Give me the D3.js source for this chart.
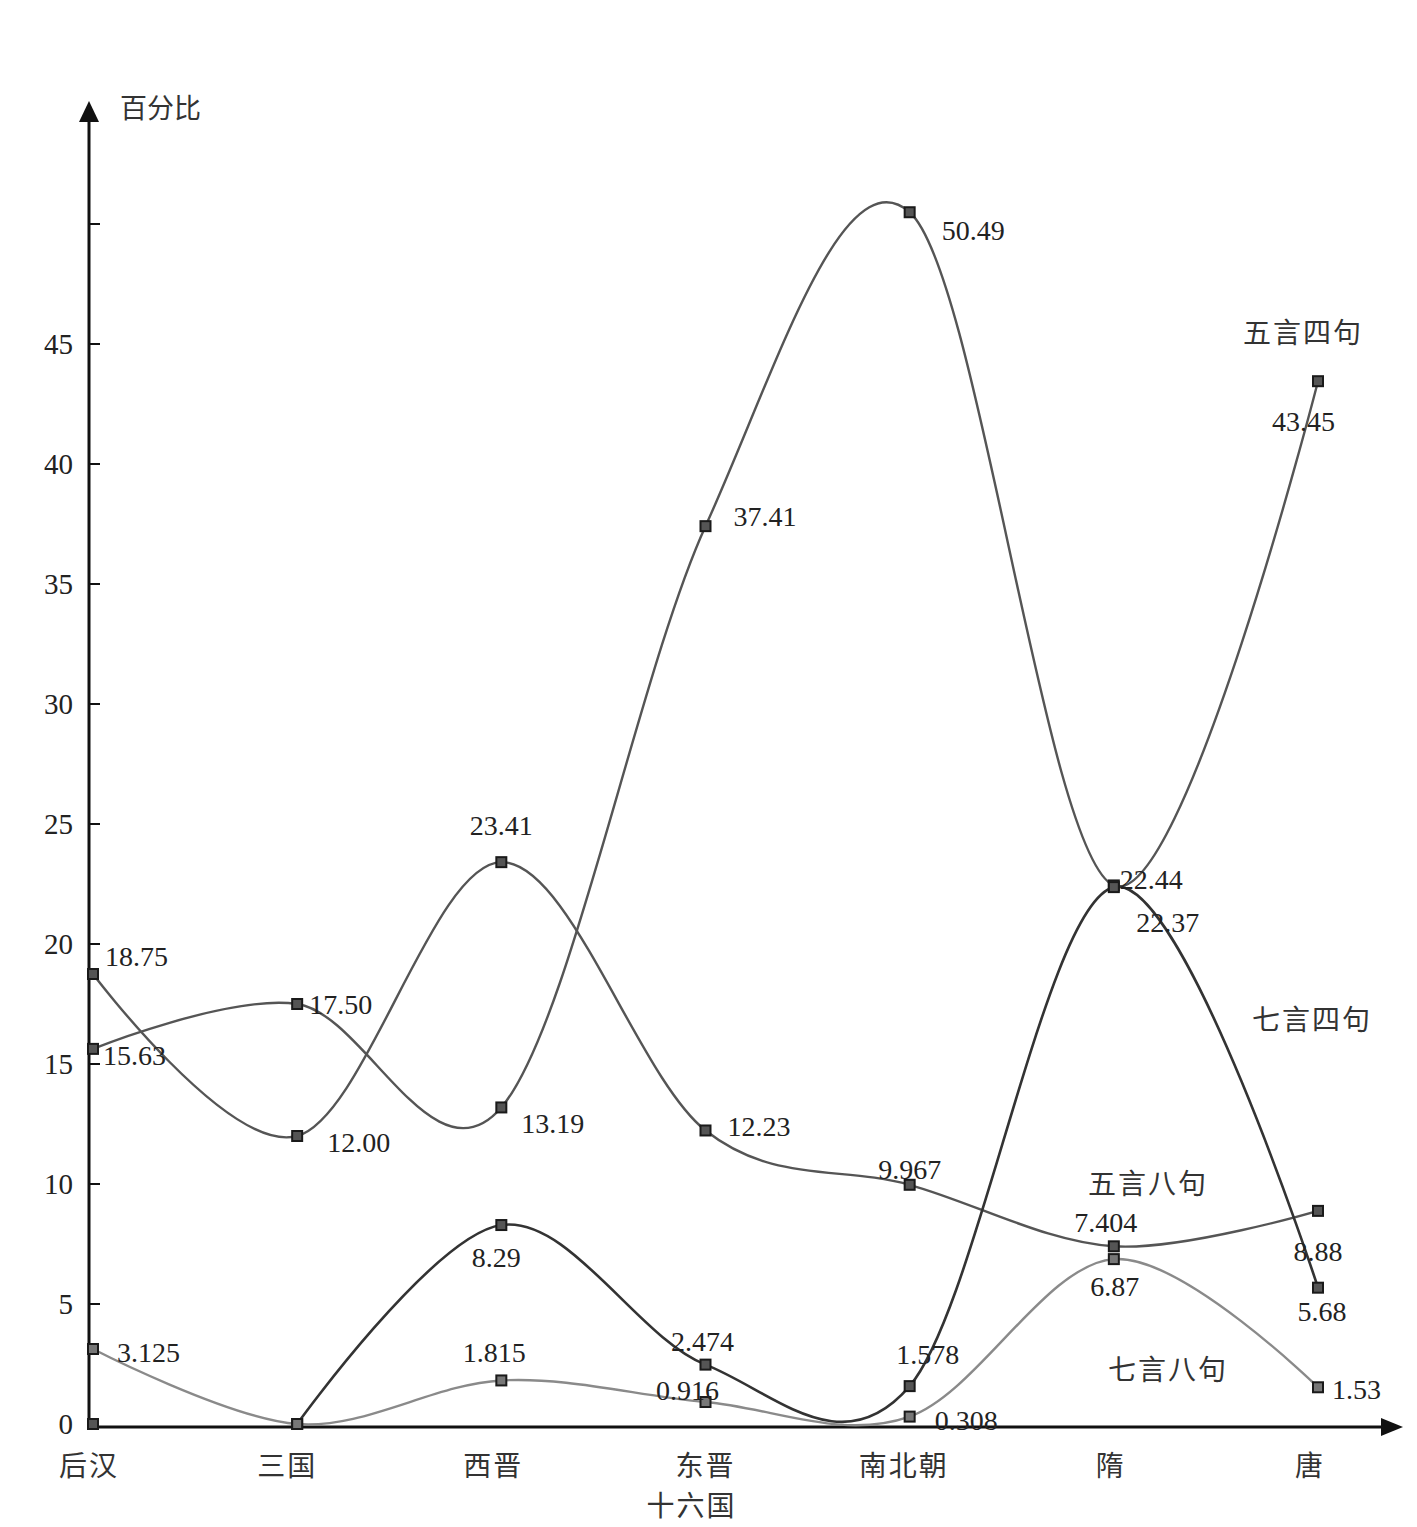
<!DOCTYPE html>
<html><head><meta charset="utf-8">
<script src="https://cdn.jsdelivr.net/npm/d3@7/dist/d3.min.js"></script>
<style>body{margin:0;background:#fff}svg{display:block}</style>
</head><body>
<script>
const periods = ["后汉","三国","西晋","东晋","南北朝","隋","唐"];
const periodLabels = [["后汉"],["三国"],["西晋"],["东晋","十六国"],["南北朝"],["隋"],["唐"]];
const seriesNames = ["五言四句","五言八句","七言四句","七言八句"];
const wuyanSiju  = [15.63, 17.50, 13.19, 37.41, 50.49, 22.44, 43.45];
const wuyanBaju  = [18.75, 12.00, 23.41, 12.23, 9.967, 7.404, 8.88];
const qiyanSiju  = [0, 0, 8.29, 2.474, 1.578, 22.37, 5.68];
const qiyanBaju  = [3.125, 0, 1.815, 0.916, 0.308, 6.87, 1.53];
const valueText = {
  "五言四句": ["15.63","17.50","13.19","37.41","50.49","22.44","43.45"],
  "五言八句": ["18.75","12.00","23.41","12.23","9.967","7.404","8.88"],
  "七言四句": ["","","8.29","2.474","1.578","22.37","5.68"],
  "七言八句": ["3.125","","1.815","0.916","0.308","6.87","1.53"]
};
const yTicks = [0,5,10,15,20,25,30,35,40,45,50];
const yTickLabels = ["0","5","10","15","20","25","30","35","40","45",""];

// label offsets (dx, dy relative to point, anchor) -- presentation only
const labelPos = {
  "五言四句": [[10,6,"start"],[12,0,"start"],[20,16,"start"],[28,-10,"start"],[32,18,"start"],[6,-6,"start"],[-46,40,"start"]],
  "五言八句": [[12,-18,"start"],[30,6,"start"],[0,-37,"middle"],[22,-4,"start"],[0,-16,"middle"],[-8,-24,"middle"],[0,40,"middle"]],
  "七言四句": [[0,0,"start"],[0,0,"start"],[-5,32,"middle"],[-3,-23,"middle"],[18,-32,"middle"],[54,35,"middle"],[4,24,"middle"]],
  "七言八句": [[24,3,"start"],[0,0,"start"],[-7,-28,"middle"],[-18,-12,"middle"],[25,4,"start"],[1,27,"middle"],[14,2,"start"]]
};
const seriesLabelPos = {"五言四句":[1303,333],"五言八句":[1148,1184],"七言四句":[1312,1020],"七言八句":[1168,1370]};
// index from which each series' line is drawn
const lineStart = {"五言四句":0,"五言八句":0,"七言四句":1,"七言八句":0};

const W = 1417, H = 1527;
const svg = d3.select("body").append("svg").attr("width",W).attr("height",H);
const axisX = 89, axisY = 1427;
const x = d3.scalePoint().domain(periods).range([93, 1318]);
const y = d3.scaleLinear().domain([0,50]).range([1424, 224]);

const serif = "'Liberation Serif','Noto Sans CJK SC',serif";
const cjk = "'Noto Sans CJK SC','Liberation Serif',serif";

// axes
svg.append("line").attr("x1",axisX).attr("x2",axisX).attr("y1",axisY+1).attr("y2",118).attr("stroke","#111").attr("stroke-width",3);
svg.append("path").attr("d",`M${axisX-10},${122}L${axisX},${101}L${axisX+10},${122}Z`).attr("fill","#111");
svg.append("line").attr("x1",axisX-1).attr("x2",1385).attr("y1",axisY).attr("y2",axisY).attr("stroke","#111").attr("stroke-width",3);
svg.append("path").attr("d",`M1381,${axisY-9}L1403,${axisY}L1381,${axisY+9}Z`).attr("fill","#111");

const yt = svg.append("g");
yTicks.forEach((t,i)=>{
  if(t>0) yt.append("line").attr("x1",axisX).attr("x2",axisX+11).attr("y1",y(t)).attr("y2",y(t)).attr("stroke","#111").attr("stroke-width",2);
  yt.append("text").attr("x",73).attr("y",y(t)).attr("dy","0.35em").attr("text-anchor","end")
    .attr("font-family",serif).attr("font-size",29).attr("fill","#222").text(yTickLabels[i]);
});
svg.append("text").attr("x",120).attr("y",118).attr("font-family",cjk).attr("font-size",27).attr("fill","#333").text("百分比");

const xLabelShift = [-4,-10,-8,0,-6,-3,-8];
periodLabels.forEach((lines,i)=>{
  lines.forEach((s,j)=>{
    svg.append("text").attr("x",x(periods[i])+xLabelShift[i]-(j?14:0)).attr("y",1476+j*40)
      .attr("text-anchor","middle").attr("font-family",cjk).attr("font-size",28).attr("fill","#333")
      .attr("letter-spacing",2).text(s);
  });
});

const series = [
  {name:"五言四句", values:wuyanSiju, color:"#555", w:2.4},
  {name:"五言八句", values:wuyanBaju, color:"#555", w:2.4},
  {name:"七言四句", values:qiyanSiju, color:"#333", w:2.6},
  {name:"七言八句", values:qiyanBaju, color:"#8a8a8a", w:2.4}
];

series.forEach(s=>{
  const start = lineStart[s.name];
  const pts = s.values.map((v,i)=>[x(periods[i]), y(v)]).slice(start);
  const line = d3.line().curve(d3.curveCardinal.tension(0));
  svg.append("path").attr("d",line(pts)).attr("fill","none").attr("stroke",s.color).attr("stroke-width",s.w);
});
series.forEach(s=>{
  const g = svg.append("g");
  s.values.forEach((v,i)=>{
    g.append("rect").attr("x",x(periods[i])-5).attr("y",y(v)-5).attr("width",10).attr("height",10)
      .attr("fill", s.name==="七言八句" ? "#777" : "#555").attr("stroke","#1a1a1a").attr("stroke-width",2);
    const t = valueText[s.name][i];
    if(t){
      const [dx,dy,a] = labelPos[s.name][i];
      g.append("text").attr("x",x(periods[i])+dx).attr("y",y(v)+dy).attr("dy","0.35em").attr("text-anchor",a)
        .attr("font-family",serif).attr("font-size",28).attr("fill","#222").text(t);
    }
  });
  const [lx,ly] = seriesLabelPos[s.name];
  svg.append("text").attr("x",lx).attr("y",ly).attr("dy","0.35em").attr("text-anchor","middle")
    .attr("font-family",cjk).attr("font-size",28).attr("fill","#333").attr("letter-spacing",2).text(s.name);
});
</script>
</body></html>
